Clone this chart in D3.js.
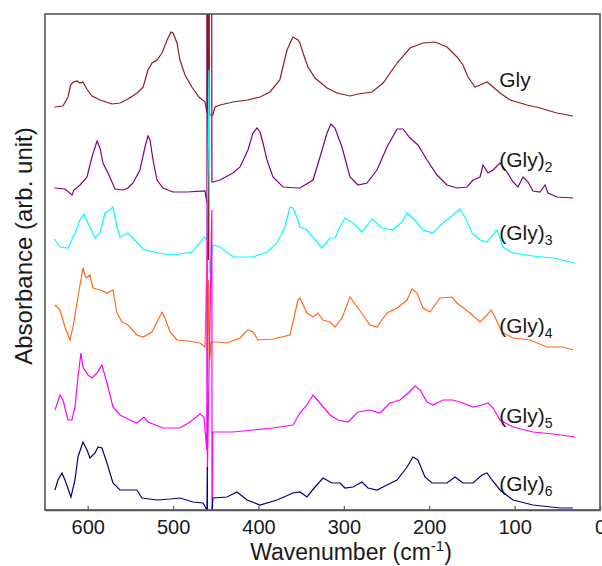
<!DOCTYPE html>
<html><head><meta charset="utf-8">
<script src="https://cdn.jsdelivr.net/npm/d3@7"></script>
<style>
body{margin:0;background:#fff}
svg{display:block}
text{font-family:"Liberation Sans",Arial,sans-serif;fill:#1a1a1a}
</style>
</head><body>
<svg id="chart" width="602" height="566"></svg>
<script>
// ---------------- data (wavenumber cm^-1, offset absorbance in arb. units) ----------------
const seriesNames = ["Gly", "(Gly)", "(Gly)", "(Gly)", "(Gly)", "(Gly)"];
const seriesSubs = ["", "2", "3", "4", "5", "6"];
const seriesColors = ["#8f1d1d", "#800080", "#00ffff", "#ff6a1a", "#ff00ff", "#000080"];
const xTicks = [600, 500, 400, 300, 200, 100, 0];
const xDomain = [650, 0];
const yDomain = [0, 496];
// label anchors in data units [wavenumber, value]
const labelAnchors = [[118, 423], [118, 343], [118, 270], [118, 177], [118, 87], [118, 19]];

const gly = [[639,403],[629,404],[623,413],[620,425],[617,428],[612.5,429],[609,427],[605.5,428],[601,421],[595,414],
 [585.6,410],[571.5,406],[562,407],[553,411],[542,417],[535,423],[529.4,440],[524.7,447],[518.8,450],[513,457],
 [507,470],[502.4,478],[500,477],[495.4,467],[492,450],[486,435],[478,423],[469.7,413],[462.6,408],[460.3,397],
 [460.1,700],[459.6,250],[459.1,700],[458.5,250],[458,700],[457.4,395],
 [453.3,395],[450.9,403],[445,405],[430,408],[413,410],[398,413],[386.5,418],[375,430],[366.6,460],[359.6,473],
 [353.7,470],[351.4,467],[347.8,457],[342,443],[333.8,432],[319.7,422],[308,417],[292.8,414],[283.4,416],[267,418],
 [254,427],[237.7,447],[222.5,462],[207.3,467],[193.2,468],[179.2,463],[167.5,453],[160.5,445],[154.6,433],[146.4,423],
 [140.5,425],[132.3,428],[126.5,424],[117,417],[105.4,410],[85.5,405],[70.3,402],[50.4,397],[31.6,394]];

const gly2 = [[639,322],[626.6,321],[618.4,315],[616.1,320],[609,325],[600.8,333],[595,353],[589.1,369],[585.6,362],
 [582.1,347],[576.2,337],[568,321],[558.7,320],[552.8,322],[546.9,327],[538.8,340],[532.9,363],[529.4,374],[527,370],
 [523.5,350],[518.8,330],[511.8,322],[500.1,318],[483.7,318],[462.6,319],[460.3,307],[459.6,700],[455,700],[454.5,328],
 [453.3,328],[445.1,330],[429.8,337],[421.6,343],[412.3,360],[406.4,377],[401.7,382],[398.2,378],[394.7,367],[390,350],
 [383,333],[371.3,323],[353.7,322],[351.4,322],[336.1,330],[327.9,353],[319.7,377],[315.1,386],[310.4,382],[302.2,363],
 [292.8,333],[283.4,325],[272.9,327],[261.2,340],[249.5,363],[237.7,381],[230.7,381],[222.5,372],[213.2,365],[202.6,350],
 [190.9,335],[179.2,325],[167.5,322],[155.8,323],[148.7,330],[140.5,333],[137,345],[131.2,337],[125.3,340],[117.1,347],
 [108.9,338],[101.9,328],[96,323],[90.2,333],[84.3,328],[78.5,319],[70.3,318],[64.4,325],[60.9,317],[50.4,313],[31.6,312]];

const gly3 = [[639,271],[632.4,263],[623.1,262],[614.9,277],[609,290],[604.3,296],[599.7,287],[591.5,272],[585.6,277],
 [579.7,297],[573.9,300],[570.4,303],[565.7,283],[562.2,273],[552.8,277],[546.9,272],[535.2,261],[518.8,257],[500.1,255],
 [477.8,258],[468.5,267],[463.8,273],[460.3,270],[458,440],[457,237],[453.3,265],[445.1,263],[429.8,253],[406.4,253],
 [390,258],[378.3,267],[368.9,283],[363.1,303],[359.6,302],[353.7,290],[351.4,283],[343.2,280],[333.8,270],[325.6,262],
 [316.2,272],[310.4,272],[304.5,283],[298.7,292],[289.3,287],[278.7,278],[267,291],[255.3,282],[242.4,280],[231.9,288],
 [226,297],[219,292],[207.3,280],[195.6,277],[183.9,287],[172.2,295],[164,301],[158.1,293],[149.9,277],[140.5,270],
 [132.3,268],[120.6,280],[113.6,263],[101.9,257],[78.5,254],[55,252],[29.3,247]];

const gly4 = [[638.3,205],[632.4,200],[626.6,183],[620.7,170],[617.2,183],[611.4,213],[605.5,242],[602,232],[597.3,235],
 [593.8,222],[585.6,220],[577.4,217],[570.4,220],[565.7,197],[559.8,188],[552.8,185],[542.3,175],[535.2,173],[524.7,178],
 [517.7,190],[513,198],[509.5,192],[503.6,178],[495.4,170],[483.7,169],[468.5,167],[462.6,163],[460.3,253],[459.5,133],
 [458.6,230],[457,150],[455.5,168],[448.6,168],[436.9,167],[421.6,172],[412.3,180],[406.4,178],[400.6,170],[383,171],
 [363.1,175],[353.7,210],[351.4,212],[343.2,197],[336.1,193],[330.3,197],[324.4,190],[316.2,188],[310.4,183],[302.2,192],
 [292.8,213],[283.4,202],[269.4,185],[261.2,183],[249.5,197],[237.7,202],[226,210],[220.2,221],[214.3,217],[207.3,202],
 [199.1,198],[187.4,212],[173.3,213],[167.5,207],[152.3,197],[140.5,188],[132.3,195],[127.7,200],[123,193],[114.8,178],
 [101.9,172],[82,170],[62.1,163],[43.3,163],[31.6,160]];

const gly5 = [[638.3,100],[632.4,115],[628.9,110],[623.1,90],[618.4,90],[614.9,103],[611.4,133],[607.9,157],[605.5,143],
 [599.7,135],[595,132],[589.1,137],[583.3,145],[577.4,127],[570.4,103],[562.2,95],[550.5,90],[542.3,87],[534.1,93],
 [529.4,88],[511.8,82],[491.9,82],[480.2,88],[468.5,96],[463.8,93],[460.5,60],[460.2,310],[459.8,40],[454.6,300],
 [454.3,-60],[453.6,78],[448.6,78],[429.8,78],[406.4,80],[383,82],[359.6,85],[351.4,97],[343.2,105],[336.1,115],
 [327.9,107],[316.2,95],[306.9,90],[295.1,88],[283.4,98],[269.4,100],[257.7,97],[246,107],[234.2,110],[224.9,117],
 [216.7,124],[210.8,120],[202.6,108],[195.6,105],[183.9,110],[172.2,110],[160.5,107],[148.7,103],[138.2,105],[131.2,107],
 [125.3,102],[117.1,90],[101.9,83],[78.5,78],[55,76],[29.3,73]];

const gly6 = [[638.3,20],[634.8,30],[630.1,37],[626.6,30],[619.6,13],[614.9,30],[611.4,53],[605.5,68],[600.8,60],[597.3,52],
 [591.5,57],[587.9,63],[583.3,62],[577.4,47],[570.4,27],[562.2,20],[542.3,20],[536.4,12],[518.8,10],[503.6,11],[491.9,12],
 [476.7,8],[465,7],[460.3,0],[459.9,43],[459.4,-60],[453.3,12],[436.9,13],[425.1,18],[413.4,10],[398.2,5],[378.3,10],
 [359.6,17],[351.4,18],[343.2,13],[333.8,23],[324.4,32],[313.9,27],[304.5,27],[298.7,22],[289.3,23],[278.7,28],[271.7,22],
 [261.2,20],[249.5,25],[237.7,30],[226,43],[219,53],[213.2,50],[205,33],[196.8,27],[179.2,27],[169.8,33],[160.5,27],
 [148.7,27],[138.2,35],[132.3,37],[126.5,30],[117.1,20],[101.9,10],[78.5,5],[46.8,2],[31.6,2]];

const seriesData = [gly, gly2, gly3, gly4, gly5, gly6];

// ---------------- layout ----------------
const svg = d3.select("#chart");
const mLeft = 45, mRight = 600, mTop = 14, mBottom = 510;
const x = d3.scaleLinear().domain(xDomain).range([mLeft, mRight]);
const y = d3.scaleLinear().domain(yDomain).range([mBottom, mTop]);

svg.append("defs").append("clipPath").attr("id", "plotClip")
  .append("rect").attr("x", mLeft).attr("y", mTop).attr("width", mRight - mLeft).attr("height", mBottom - mTop);

const line = d3.line().x(d => x(d[0])).y(d => y(d[1])).curve(d3.curveLinear);

const gLines = svg.append("g").attr("clip-path", "url(#plotClip)");
seriesData.forEach((data, i) => {
  gLines.append("path").datum(data)
    .attr("d", line)
    .attr("fill", "none")
    .attr("stroke", seriesColors[i])
    .attr("stroke-width", 1.2)
    .attr("stroke-linejoin", "miter");
});

// frame
svg.append("rect").attr("x", mLeft).attr("y", mTop).attr("width", mRight - mLeft).attr("height", mBottom - mTop)
  .attr("fill", "none").attr("stroke", "#555").attr("stroke-width", 1.6);

// x axis
const xAxis = d3.axisBottom(x).tickValues(xTicks).tickFormat(d3.format("d"))
  .tickSizeInner(-4).tickSizeOuter(0).tickPadding(10);
const gx = svg.append("g").attr("transform", `translate(0,${mBottom})`).call(xAxis);
gx.select(".domain").attr("stroke", "#555").attr("stroke-width", 1.6);
gx.selectAll(".tick line").attr("stroke", "#555").attr("stroke-width", 1.2);
gx.selectAll(".tick text").attr("font-size", 20).attr("font-family", "Liberation Sans, Arial, sans-serif").attr("fill", "#1a1a1a");

// x title
const xt = svg.append("text").attr("x", 351).attr("y", 560).attr("text-anchor", "middle").attr("font-size", 23);
xt.append("tspan").text("Wavenumber (cm");
xt.append("tspan").attr("dy", -9).attr("font-size", 15).text("-1");
xt.append("tspan").attr("dy", 9).text(")");

// y title
svg.append("text").attr("transform", `translate(32,246) rotate(-90)`)
  .attr("text-anchor", "middle").attr("font-size", 24).text("Absorbance (arb. unit)");

// series labels
labelAnchors.forEach((a, i) => {
  const t = svg.append("text").attr("x", x(a[0])).attr("y", y(a[1])).attr("font-size", 21);
  t.append("tspan").text(seriesNames[i]);
  if (seriesSubs[i]) t.append("tspan").attr("dy", 5).attr("font-size", 14).text(seriesSubs[i]);
});
</script>
</body></html>
